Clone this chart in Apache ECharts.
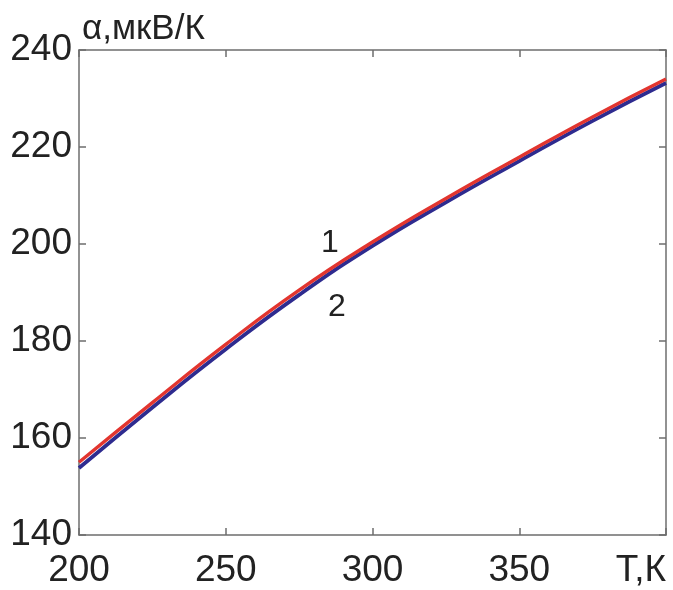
<!DOCTYPE html>
<html><head><meta charset="utf-8">
<script src="https://cdn.jsdelivr.net/npm/echarts@6/dist/echarts.min.js"></script>
<style>html,body{margin:0;padding:0;background:#fff}#c{width:673px;height:590px}</style>
</head><body><div id="c"></div>
<script>
const temperature = [200, 225, 250, 275, 300, 325, 350, 375, 400];
const alpha1 = [155.0, 167.3, 179.3, 190.5, 200.4, 209.4, 217.9, 226.2, 234.0];
const alpha2 = [153.8, 166.3, 178.3, 189.5, 199.6, 208.6, 217.1, 225.4, 233.2];
const xTicks = [200, 250, 300, 350, 400];
const yTicks = [140, 160, 180, 200, 220, 240];
const yTitle = 'α,мкВ/К';
const xTitle = 'Т,К';
const label1 = {text: '1', T: 285.5, a: 200.2};
const label2 = {text: '2', T: 287.9, a: 187.0};

const FONT = '"Liberation Sans", Arial, sans-serif';
const axisLineStyle = {color: '#6e6e6e', width: 1.5};
const chart = echarts.init(document.getElementById('c'));
chart.setOption({
  animation: false,
  grid: {left: 79, top: 50, right: 7, bottom: 55},
  xAxis: [{
    type: 'value', min: 200, max: 400, interval: 50,
    axisLine: {show: true, lineStyle: axisLineStyle},
    axisTick: {show: true, inside: true, length: 7, lineStyle: axisLineStyle},
    splitLine: {show: false},
    axisLabel: {
      fontFamily: FONT, fontSize: 37, color: '#222', margin: 17,
      alignMaxLabel: 'right',
      formatter: v => v === 400 ? xTitle : String(v)
    }
  }, {
    type: 'value', min: 200, max: 400, interval: 50, position: 'top',
    axisLine: {show: true, lineStyle: axisLineStyle},
    axisTick: {show: true, inside: true, length: 7, lineStyle: axisLineStyle},
    splitLine: {show: false}, axisLabel: {show: false}
  }],
  yAxis: [{
    type: 'value', min: 140, max: 240, interval: 20,
    axisLine: {show: true, lineStyle: axisLineStyle},
    axisTick: {show: true, inside: true, length: 7, lineStyle: axisLineStyle},
    splitLine: {show: false},
    axisLabel: {fontFamily: FONT, fontSize: 37, color: '#222', margin: 7}
  }, {
    type: 'value', min: 140, max: 240, interval: 20, position: 'right',
    axisLine: {show: true, lineStyle: axisLineStyle},
    axisTick: {show: true, inside: true, length: 7, lineStyle: axisLineStyle},
    splitLine: {show: false}, axisLabel: {show: false}
  }],
  graphic: [{
    type: 'text', left: 82, top: 12,
    style: {text: yTitle, fontFamily: FONT, fontSize: 35, fill: '#222'}
  }],
  series: [{
    type: 'line', name: '2', smooth: true, symbol: 'none',
    data: temperature.map((t, i) => [t, alpha2[i]]),
    lineStyle: {color: '#2e2b8f', width: 3.8},
    markPoint: {
      symbol: 'circle', symbolSize: 0,
      label: {show: true, formatter: label2.text, fontFamily: FONT, fontSize: 32, color: '#222', position: 'inside'},
      data: [{coord: [label2.T, label2.a]}]
    }
  }, {
    type: 'line', name: '1', smooth: true, symbol: 'none',
    data: temperature.map((t, i) => [t, alpha1[i]]),
    lineStyle: {color: '#e2352f', width: 3.4},
    markPoint: {
      symbol: 'circle', symbolSize: 0,
      label: {show: true, formatter: label1.text, fontFamily: FONT, fontSize: 32, color: '#222', position: 'inside'},
      data: [{coord: [label1.T, label1.a]}]
    }
  }]
});
</script></body></html>
